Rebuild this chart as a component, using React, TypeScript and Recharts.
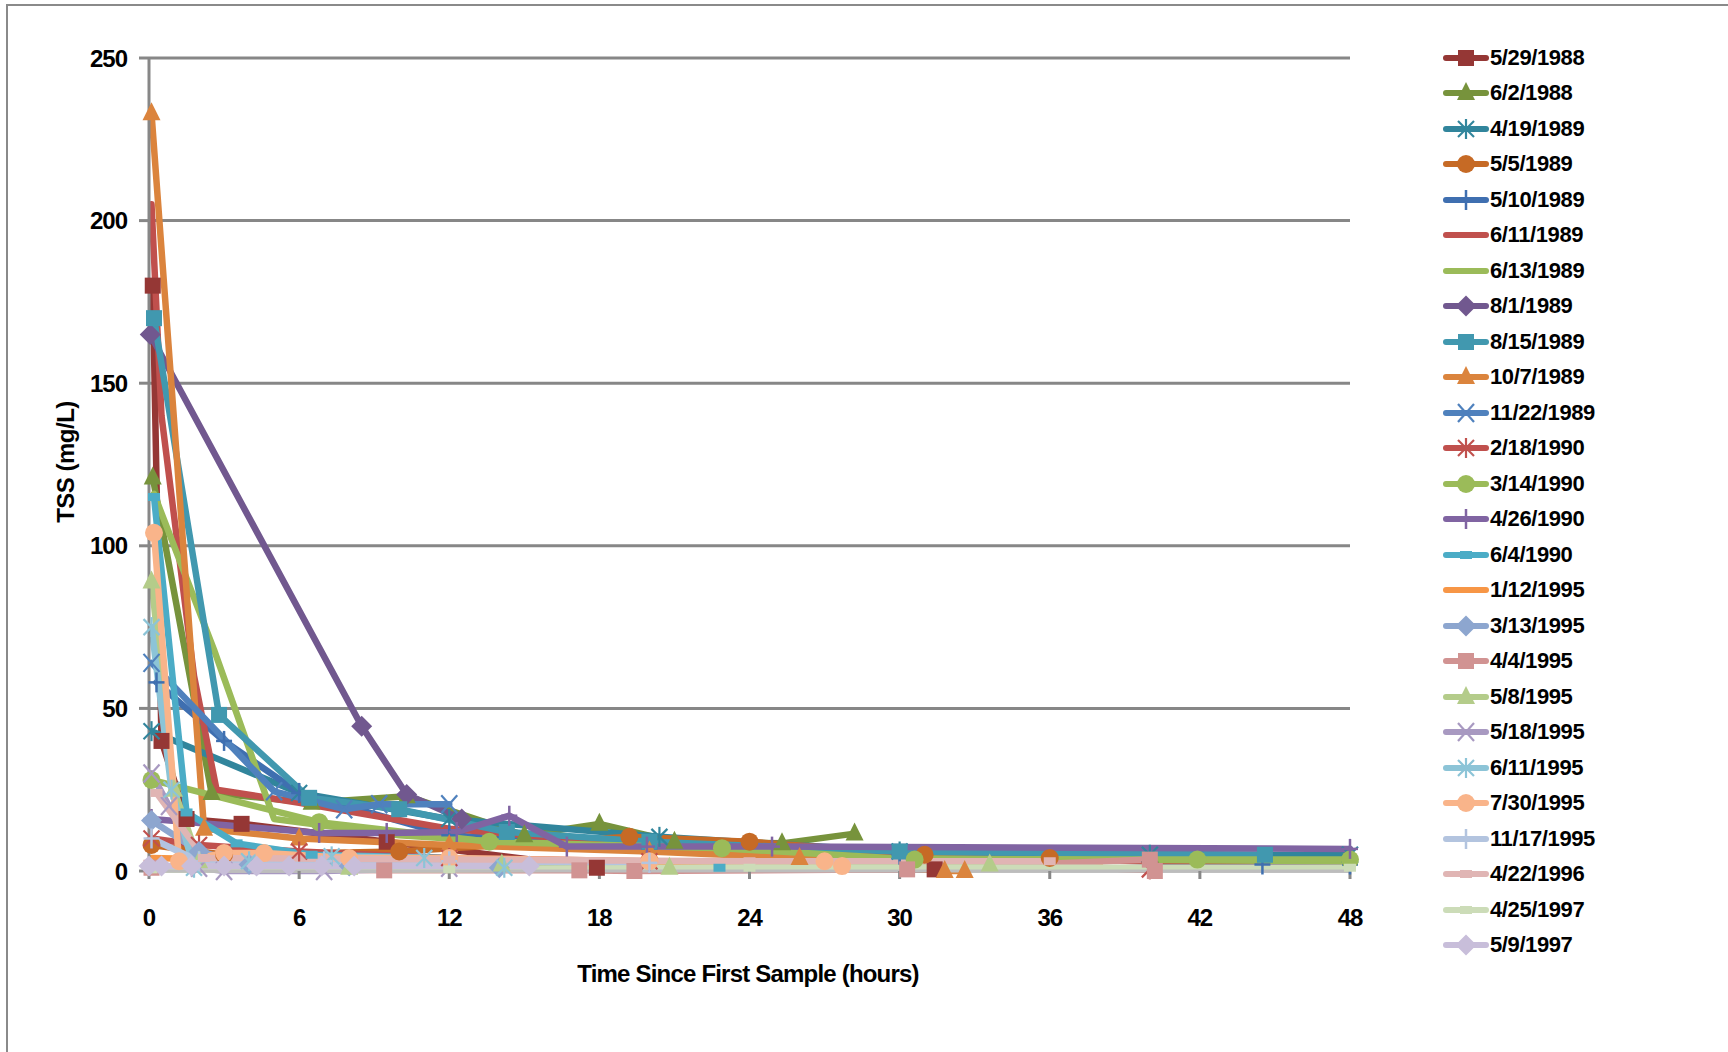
import { LineChart, Line, XAxis, YAxis, CartesianGrid } from "recharts";

// sampling events (legend order)
const eventDates = [
  "5/29/1988", "6/2/1988", "4/19/1989", "5/5/1989", "5/10/1989", "6/11/1989",
  "6/13/1989", "8/1/1989", "8/15/1989", "10/7/1989", "11/22/1989", "2/18/1990",
  "3/14/1990", "4/26/1990", "6/4/1990", "1/12/1995", "3/13/1995", "4/4/1995",
  "5/8/1995", "5/18/1995", "6/11/1995", "7/30/1995", "11/17/1995", "4/22/1996",
  "4/25/1997", "5/9/1997",
];

// [hours since first sample, TSS mg/L]
const ev19880529 = [[0.15, 180], [0.5, 40], [1.5, 16], [3.7, 14.5], [9.5, 9], [17.9, 1], [31.4, 0.5]];
const ev19880602 = [[0.15, 121], [2.5, 24], [6.5, 21], [10.3, 23], [15, 11], [18, 14.5], [21, 9], [25.3, 8.5], [28.2, 11.5]];
const ev19890419 = [[0.1, 43], [6, 24], [12, 16], [20.4, 10.5], [30, 6], [40, 5], [48, 5]];
const ev19890505 = [[0.1, 8], [3, 5], [10, 6], [19.2, 10.5], [24, 9], [31, 5], [36, 4]];
const ev19890510 = [[0.3, 58], [3, 40], [6, 24], [12, 11], [20, 7], [30, 5], [44.5, 2], [48, 2]];
const ev19890611 = [[0.1, 205], [0.5, 140], [1.8, 60], [2.7, 25], [6, 21], [12, 13], [18, 9], [24, 6], [30, 4], [40, 3], [48, 3]];
const ev19890613 = [[0.2, 116], [2.6, 68], [5, 16], [10, 11], [18, 7], [28, 4], [48, 3]];
const ev19890801 = [[0.05, 165], [8.5, 44.5], [10.3, 23.5], [12.5, 16]];
const ev19890815 = [[0.2, 170], [2.8, 48], [6.4, 22.5], [10, 19], [14.3, 12], [20, 9], [30, 6], [44.6, 5]];
const ev19891007 = [[0.1, 233], [2.2, 13], [6, 10], [12, 8], [20, 6], [26, 4], [31.8, 0], [32.6, 0]];
const ev19891122 = [[0.1, 64], [5, 24.5], [7.8, 19], [9.2, 20.5], [12, 20.5]];
const ev19900218 = [[0.1, 10], [2, 8], [6, 6], [12, 4], [20, 3], [40, 0.5]];
const ev19900314 = [[0.1, 28], [6.8, 15], [13.6, 9], [22.9, 7], [30.6, 3.5], [41.9, 3.5], [48, 3.5]];
const ev19900426 = [[0.1, 16], [6.8, 11.7], [9.5, 11.7], [12.3, 12], [14.4, 17], [16.7, 7.5], [19.9, 7.5], [24.9, 7.5], [48, 6.8]];
const ev19900604 = [[0.2, 115], [1.5, 18], [3.5, 8.5], [6.5, 5], [12, 4], [22.8, 1]];
const ev19950112 = [[0.1, 4], [6, 3], [12, 3], [24, 2], [38, 2]];
const ev19950313 = [[0.1, 15.5], [2, 6], [4, 2], [8, 1.5], [14, 1]];
const ev19950404 = [[0.1, 1], [9.4, 0.2], [17.2, 0.2], [19.4, 0], [30.3, 0.5], [40, 3.5], [40.2, 0]];
const ev19950508 = [[0.1, 89], [1, 25], [2, 3], [8, 1], [14.1, 2], [20.8, 1], [33.6, 2]];
const ev19950518 = [[0.1, 30], [0.8, 20], [2, 1], [3, 0], [7, 0], [12, 1]];
const ev19950611 = [[0.1, 75], [0.9, 25], [1.8, 1], [4, 3], [7.3, 4.5], [11, 4], [14.2, 1]];
const ev19950730 = [[0.2, 104], [1.2, 3], [3, 5.5], [4.6, 5.5], [8, 4], [12, 4], [20, 3], [27, 3], [27.7, 1.5]];
const ev19951117 = [[0.1, 10], [2, 3], [7, 3], [12, 3], [20, 2.5]];
const ev19960422 = [[0.3, 24], [2.2, 4], [12, 3.5], [24, 3], [36, 3]];
const ev19970425 = [[0.1, 0.5], [12, 0.5], [24, 1], [48, 1]];
const ev19970509 = [[0, 1.5], [0.5, 1.5], [1.7, 1.5], [3, 1.5], [4.3, 1.5], [5.6, 1.5], [6.9, 1.5], [8.2, 1.5], [15.2, 1.5]];

const xTicks = [0, 6, 12, 18, 24, 30, 36, 42, 48];
const yTicks = [0, 50, 100, 150, 200, 250];

const allEvents = [
  ev19880529, ev19880602, ev19890419, ev19890505, ev19890510, ev19890611,
  ev19890613, ev19890801, ev19890815, ev19891007, ev19891122, ev19900218,
  ev19900314, ev19900426, ev19900604, ev19950112, ev19950313, ev19950404,
  ev19950508, ev19950518, ev19950611, ev19950730, ev19951117, ev19960422,
  ev19970425, ev19970509,
];

const looks = [
  { color: "#953735", marker: "square" },
  { color: "#77933C", marker: "triangle" },
  { color: "#31859C", marker: "star" },
  { color: "#C66A25", marker: "circle" },
  { color: "#3F6FB0", marker: "plus" },
  { color: "#C0504D", marker: "none" },
  { color: "#9BBB59", marker: "none" },
  { color: "#71588F", marker: "diamond" },
  { color: "#4198AF", marker: "square" },
  { color: "#DB843D", marker: "triangle" },
  { color: "#4F81BD", marker: "x" },
  { color: "#C0504D", marker: "star" },
  { color: "#9BBB59", marker: "circle" },
  { color: "#8064A2", marker: "plus" },
  { color: "#4BACC6", marker: "dash" },
  { color: "#F79646", marker: "none" },
  { color: "#8DA6CF", marker: "diamond" },
  { color: "#D19392", marker: "square" },
  { color: "#B4CC8A", marker: "triangle" },
  { color: "#A899C1", marker: "x" },
  { color: "#8CC4D7", marker: "star" },
  { color: "#F9B48A", marker: "circle" },
  { color: "#B3C4DF", marker: "plus" },
  { color: "#E0B5B4", marker: "dash" },
  { color: "#CCDCB8", marker: "dash" },
  { color: "#C8BEDA", marker: "diamond" },
];

const FONT = "'Liberation Sans', Arial, sans-serif";
const GRID = "#878787";

function Marker({ cx, cy, shape, color }: { cx: number; cy: number; shape: string; color: string }) {
  if (cx == null || cy == null) return <g />;
  switch (shape) {
    case "square":
      return <rect x={cx - 8} y={cy - 8} width={16} height={16} fill={color} />;
    case "triangle":
      return <polygon points={`${cx},${cy - 11} ${cx + 9},${cy + 7} ${cx - 9},${cy + 7}`} fill={color} />;
    case "circle":
      return <circle cx={cx} cy={cy} r={9} fill={color} />;
    case "diamond":
      return <polygon points={`${cx},${cy - 10.5} ${cx + 10.5},${cy} ${cx},${cy + 10.5} ${cx - 10.5},${cy}`} fill={color} />;
    case "x":
      return (
        <g stroke={color} strokeWidth={2.2}>
          <line x1={cx - 8} y1={cy - 9} x2={cx + 8} y2={cy + 9} />
          <line x1={cx - 8} y1={cy + 9} x2={cx + 8} y2={cy - 9} />
        </g>
      );
    case "star":
      return (
        <g stroke={color} strokeWidth={2.2}>
          <line x1={cx - 8} y1={cy - 8} x2={cx + 8} y2={cy + 8} />
          <line x1={cx - 8} y1={cy + 8} x2={cx + 8} y2={cy - 8} />
          <line x1={cx} y1={cy - 10} x2={cx} y2={cy + 10} />
        </g>
      );
    case "plus":
      return (
        <g stroke={color} strokeWidth={2.5}>
          <line x1={cx} y1={cy - 10} x2={cx} y2={cy + 10} />
          <line x1={cx - 8} y1={cy} x2={cx + 8} y2={cy} />
        </g>
      );
    case "dash":
      return <rect x={cx - 6} y={cy - 4} width={12} height={8} fill={color} />;
    default:
      return <g />;
  }
}

export default function App() {
  return (
    <div style={{ position: "absolute", left: 0, top: 0, width: 1728, height: 1052, background: "#fff", overflow: "hidden", fontFamily: FONT }}>
      <div style={{ position: "absolute", left: 6, top: 4, width: 1760, height: 1100, borderTop: "2px solid #8a8a8a", borderLeft: "2px solid #8a8a8a" }} />
      <div style={{ position: "absolute", left: 0, top: 0 }}>
        <LineChart width={1728} height={1052} margin={{ top: 58, right: 378, bottom: 141, left: 89 }}>
          <CartesianGrid vertical={false} stroke={GRID} strokeWidth={3} />
          <XAxis
            type="number"
            dataKey="t"
            domain={[0, 48]}
            ticks={xTicks}
            allowDuplicatedCategory={false}
            axisLine={{ stroke: "#bdbdbd", strokeWidth: 3 }}
            tickLine={{ stroke: GRID, strokeWidth: 3 }}
            tickSize={8}
            tickMargin={30}
            height={40}
            tick={{ fill: "#000", fontSize: 24, fontWeight: 700, fontFamily: FONT, letterSpacing: -1 }}
          />
          <YAxis
            type="number"
            domain={[0, 250]}
            ticks={yTicks}
            width={60}
            axisLine={{ stroke: GRID, strokeWidth: 3 }}
            tickLine={{ stroke: GRID, strokeWidth: 3 }}
            tickSize={10}
            tickMargin={12}
            tick={{ fill: "#000", fontSize: 24, fontWeight: 700, fontFamily: FONT, letterSpacing: -1 }}
          />
          {allEvents.map((pts, i) => (
            <Line
              key={eventDates[i]}
              name={eventDates[i]}
              data={pts.map(([t, v]) => ({ t, v }))}
              dataKey="v"
              type="linear"
              stroke={looks[i].color}
              strokeWidth={6.5}
              strokeLinejoin="round"
              strokeLinecap="round"
              isAnimationActive={false}
              activeDot={false}
              dot={(p: any) => (
                <Marker key={`${i}-${p.index}`} cx={p.cx} cy={p.cy} shape={looks[i].marker} color={looks[i].color} />
              )}
            />
          ))}
        </LineChart>
      </div>

      <div style={{ position: "absolute", left: 66, top: 462, transform: "translate(-50%, -50%) rotate(-90deg)", fontSize: 24, fontWeight: 700, whiteSpace: "nowrap", letterSpacing: -0.5 }}>
        TSS (mg/L)
      </div>
      <div style={{ position: "absolute", left: 748, top: 974, transform: "translate(-50%, -50%)", fontSize: 24, fontWeight: 700, whiteSpace: "nowrap", letterSpacing: -0.8 }}>
        Time Since First Sample (hours)
      </div>

      <div style={{ position: "absolute", left: 1442, top: 40 }}>
        {eventDates.map((d, i) => (
          <div key={d} style={{ display: "flex", alignItems: "center", height: 35.5 }}>
            <svg width={48} height={24} style={{ display: "block" }}>
              <line x1={4} y1={12} x2={44} y2={12} stroke={looks[i].color} strokeWidth={6} strokeLinecap="round" />
              <Marker cx={24} cy={12} shape={looks[i].marker} color={looks[i].color} />
            </svg>
            <span style={{ fontSize: 22, fontWeight: 700, letterSpacing: -0.4, lineHeight: "24px" }}>{d}</span>
          </div>
        ))}
      </div>
    </div>
  );
}
